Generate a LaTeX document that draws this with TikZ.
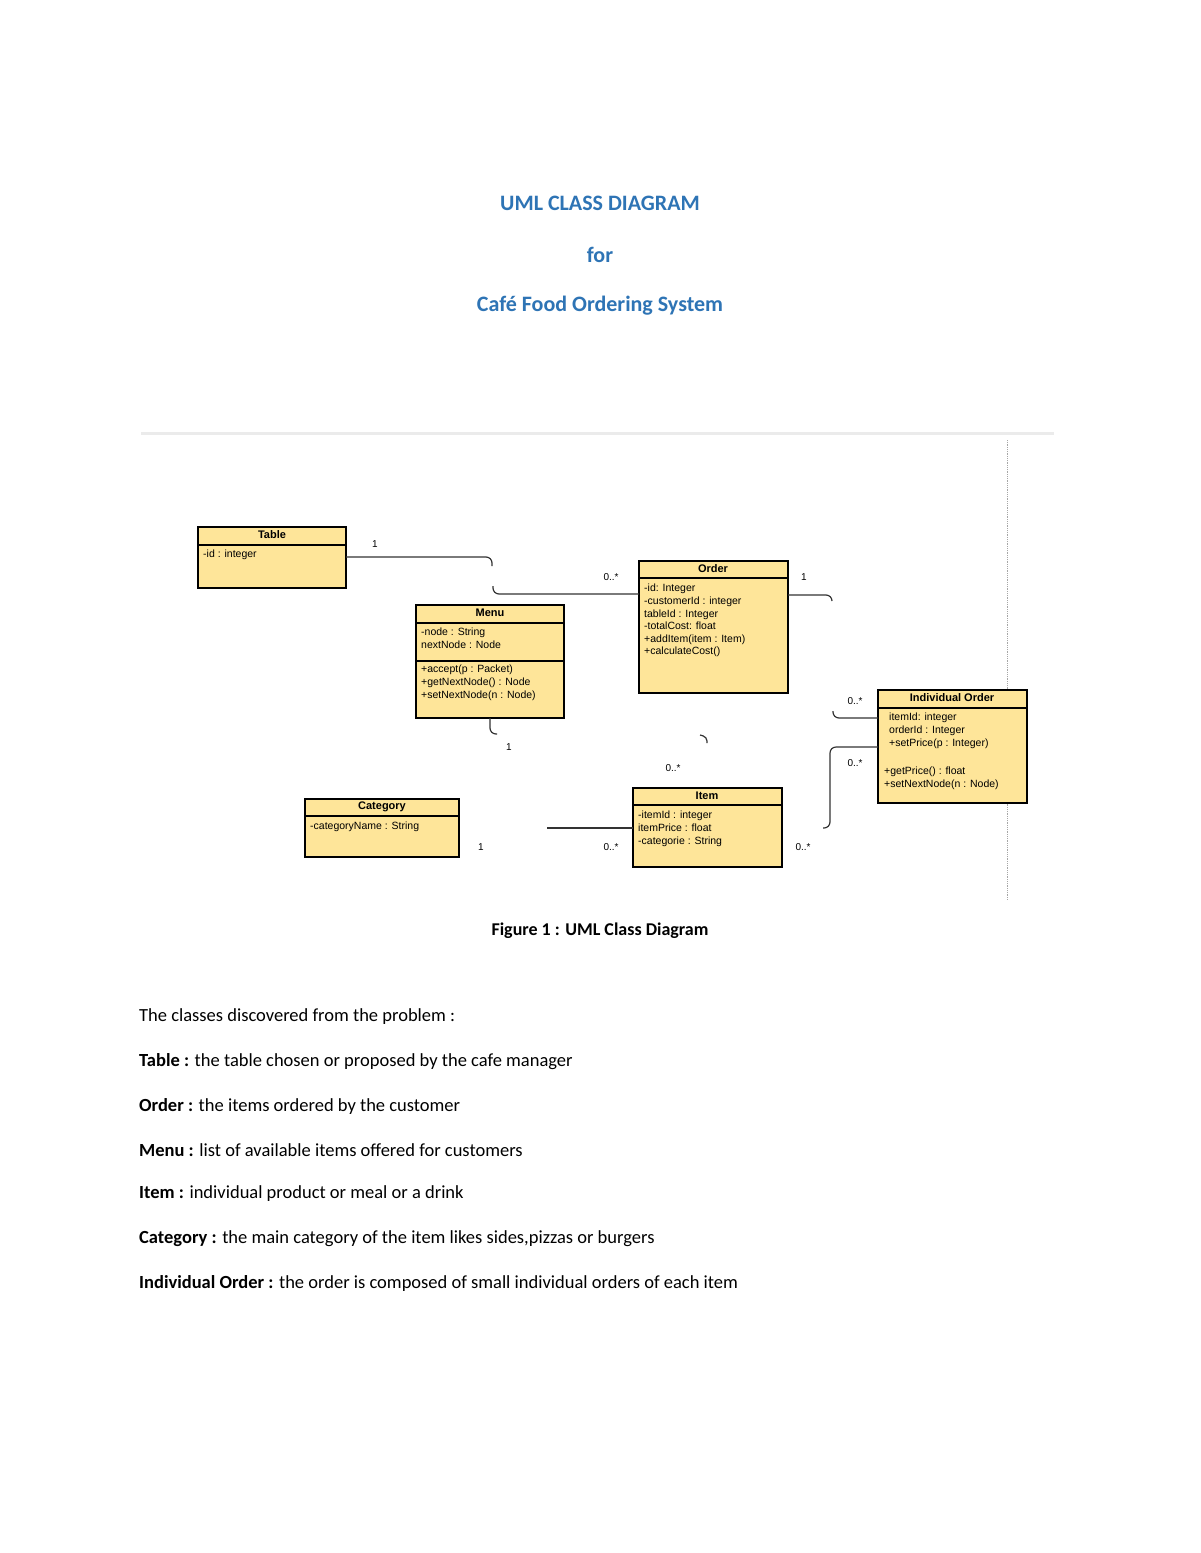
\documentclass[tikz,border=0pt]{standalone}
\usepackage{fontspec}
\setmainfont{Carlito}
\newfontfamily\arial{Liberation Sans}
\definecolor{ttl}{RGB}{46,116,181}
\definecolor{cls}{RGB}{254,229,153}
\tikzset{x=1pt,y=-1pt,
 box/.style={draw=black,fill=cls,line width=1.2pt},
 hdr/.style={font=\arial\bfseries\fontsize{11}{12}\selectfont,anchor=center,inner sep=0},
 mem/.style={font=\arial\fontsize{10.5}{12.6}\selectfont,anchor=north west,align=left,inner sep=0},
 lbl/.style={font=\arial\fontsize{10}{12}\selectfont,inner sep=0},
 con/.style={draw=black!80,line width=1.2pt,rounded corners=6pt},
 ttlf/.style={font=\bfseries\fontsize{22}{26}\selectfont,text=ttl},
 txt/.style={font=\fontsize{18.5}{22}\selectfont,anchor=west,inner sep=0}}
\newcommand{\umlbox}[6]{% name x1 y1 x2 y2 yheader
 \draw[box] (#2,#3) rectangle (#4,#5);
 \draw[line width=1.2pt] (#2,#6) -- (#4,#6);}
\begin{document}
\begin{tikzpicture}
\useasboundingbox[fill=white] (0,0) rectangle (1200,1553);
\node[ttlf] (t1) at (600,203) {UML CLASS DIAGRAM};
\node[ttlf] (t2) at (600,255) {for};
\node[ttlf] (t3) at (600,306) {Café Food Ordering System};
\draw[black!8,line width=3pt] (141,433) -- (1054,433);
\draw[black!35,densely dotted,line width=0.8pt] (1007,440) -- (1007,900);
% Table
\umlbox{Table}{198}{527}{346}{588}{545}
\node[hdr] (table) at (272,535) {Table};
\node[mem] (tablea) at (203,550) {-id : integer};
% Menu
\umlbox{Menu}{416}{605}{564}{718}{623}
\draw[line width=1.2pt] (416,661) -- (564,661);
\node[hdr] (menu) at (490,613) {Menu};
\node[mem] (menua) at (421,628) {-node : String\\ nextNode : Node};
\node[mem] (menum) at (421,665) {+accept(p : Packet)\\+getNextNode() : Node\\+setNextNode(n : Node)};
% Order
\umlbox{Order}{639}{561}{788}{693}{578}
\node[hdr] (order) at (713,569) {Order};
\node[mem] (ordera) at (644,584) {-id: Integer\\-customerId : integer\\ tableId : Integer\\-totalCost: float\\+addItem(item : Item)\\+calculateCost()};
% Individual order
\umlbox{IO}{878}{690}{1027}{803}{708}
\node[hdr] (io) at (952,698) {Individual Order};
\node[mem] (ioa) at (889,713) {itemId: integer\\orderId : Integer\\+setPrice(p : Integer)};
\node[mem] (iom) at (884,767) {+getPrice() : float\\+setNextNode(n : Node)};
% Category
\umlbox{Cat}{305}{799}{459}{857}{816}
\node[hdr] (cat) at (382,807) {Category};
\node[mem] (cata) at (310,822) {-categoryName : String};
% Item
\umlbox{Item}{633}{788}{782}{867}{805}
\node[hdr] (item) at (707,796) {Item};
\node[mem] (itema) at (638,811) {-itemId : integer\\ itemPrice : float\\-categorie : String};
% connectors
\coordinate (c1) at (492,566);
\coordinate (c2) at (493,586);
\coordinate (c3) at (832,601);
\coordinate (c4) at (833,711);
\coordinate (c5) at (823,828);
\coordinate (c6) at (497,734);
\coordinate (c7a) at (700,735);
\coordinate (c7b) at (707,743);
\coordinate (c8) at (547,828);
\draw[con] (346,557) -- (492,557) -- (c1);
\draw[con] (c2) -- (493,594) -- (639,594);
\draw[con] (788,595) -- (832,595) -- (c3);
\draw[con] (878,718) -- (833,718) -- (c4);
\draw[con] (878,747) -- (830,747) -- (830,828) -- (c5);
\draw[con] (490,718) -- (490,734) -- (c6);
\draw[con,rounded corners=4pt] (c7a) -- (707,737) -- (c7b);
\draw[con] (c8) -- (633,828);
\node[lbl] (l1) at (375,544) {1};
\node[lbl] (l2) at (611,577) {0..*};
\node[lbl] (l3) at (804,577) {1};
\node[lbl] (l4) at (855,701) {0..*};
\node[lbl] (l5) at (855,763) {0..*};
\node[lbl] (l6) at (509,747) {1};
\node[lbl] (l7) at (673,768) {0..*};
\node[lbl] (l8) at (481,847) {1};
\node[lbl] (l9) at (611,847) {0..*};
\node[lbl] (l10) at (803,847) {0..*};
\node[font=\bfseries\fontsize{18}{22}\selectfont] (cap) at (600,931) {Figure 1 : UML Class Diagram};
\node[txt] (p0) at (139,1017) {The classes discovered from the problem :};
\node[txt] (p1) at (139,1062) {\textbf{Table :} the table chosen or proposed by the cafe manager};
\node[txt] (p2) at (139,1106) {\textbf{Order :} the items ordered by the customer};
\node[txt] (p3) at (139,1150) {\textbf{Menu :} list of available items offered for customers};
\node[txt] (p4) at (139,1194) {\textbf{Item :} individual product or meal or a drink};
\node[txt] (p5) at (139,1239) {\textbf{Category :} the main category of the item likes sides,pizzas or burgers};
\node[txt] (p6) at (139,1283) {\textbf{Individual Order :} the order is composed of small individual orders of each item};
\end{tikzpicture}
\end{document}
